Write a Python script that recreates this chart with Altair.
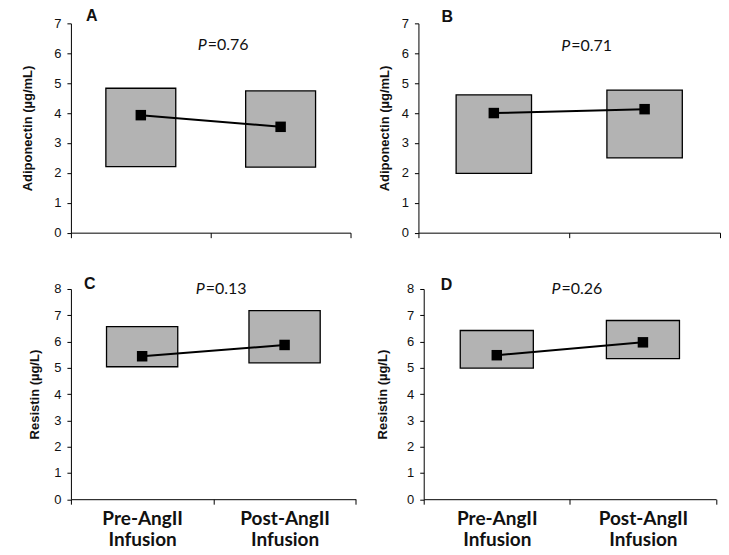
import altair as alt
import pandas as pd

groups = ["Pre-AngII Infusion", "Post-AngII Infusion"]

# Panel A: Adiponectin (left)
a_median = [3.93, 3.54]
a_low = [2.21, 2.19]
a_high = [4.83, 4.74]
# Panel B: Adiponectin (right)
b_median = [4.00, 4.13]
b_low = [1.98, 2.50]
b_high = [4.61, 4.77]
# Panel C: Resistin (left)
c_median = [5.44, 5.87]
c_low = [5.04, 5.19]
c_high = [6.57, 7.18]
# Panel D: Resistin (right)
d_median = [5.48, 5.97]
d_low = [4.99, 5.35]
d_high = [6.42, 6.80]

letters = ["A", "B", "C", "D"]
pvalues = ["=0.76", "=0.71", "=0.13", "=0.26"]
ytitles = ["Adiponectin (\u00b5g/mL)", "Adiponectin (\u00b5g/mL)",
           "Resistin (\u00b5g/L)", "Resistin (\u00b5g/L)"]
ymaxes = [7, 7, 8, 8]


def panel(median, low, high, ymax, ytitle, letter, pval, width, height,
          show_labels, title_pad, letter_x, letter_y, p_x, p_y, spacer=None):
    df = pd.DataFrame({"group": groups, "median": median, "low": low, "high": high})
    xaxis = alt.Axis(
        title=None, labels=show_labels, tickBand="extent", labelAngle=0,
        labelExpr="split(datum.label, ' ')", labelFont="Lato",
        labelFontWeight="bold", labelFontSize=19, labelColor="#111",
        labelLineHeight=21, labelPadding=5, tickSize=5,
        domainColor="#000", tickColor="#000", grid=False,
    )
    x = alt.X("group:N", sort=groups, axis=xaxis,
              scale=alt.Scale(paddingInner=0, paddingOuter=0))
    yscale = alt.Scale(domain=[0, ymax], nice=False)
    yaxis = alt.Axis(
        values=list(range(ymax + 1)), title=ytitle, titleFont="Liberation Sans",
        titleFontSize=13, titleFontWeight="bold", titleColor="#111",
        titlePadding=title_pad, labelFont="Liberation Sans", labelFontSize=13,
        labelColor="#111", labelPadding=6, tickSize=4, grid=False,
        labelOverlap=False, labelFlush=False,
        domainColor="#000", tickColor="#000",
    )
    base = alt.Chart(df)
    bars = base.mark_bar(
        fill="#b3b3b3", stroke="#000", strokeWidth=1.3,
        width=alt.RelativeBandSize(0.5),
    ).encode(x=x, y=alt.Y("low:Q", scale=yscale, axis=yaxis), y2="high:Q")
    line = base.mark_line(color="#000", strokeWidth=2).encode(
        x=x, y=alt.Y("median:Q", scale=yscale, axis=yaxis))
    pts = base.mark_square(size=110, color="#000", opacity=1).encode(
        x=x, y=alt.Y("median:Q", scale=yscale, axis=yaxis))
    lab = alt.Chart(pd.DataFrame({"t": [letter]})).mark_text(
        align="left", baseline="alphabetic", font="Liberation Sans",
        fontWeight="bold", fontSize=16, color="#111",
    ).encode(text="t:N", x=alt.value(letter_x), y=alt.value(letter_y))
    ptxt = alt.Chart(pd.DataFrame({"t": ["P"]})).mark_text(
        align="right", baseline="middle", font="Lato", fontStyle="italic",
        fontSize=16, color="#111",
    ).encode(text="t:N", x=alt.value(p_x), y=alt.value(p_y))
    vtxt = alt.Chart(pd.DataFrame({"t": [pval]})).mark_text(
        align="left", baseline="middle", font="Lato",
        fontSize=16, color="#111",
    ).encode(text="t:N", x=alt.value(p_x + 1), y=alt.value(p_y))
    layers = [bars, line, pts, lab, ptxt, vtxt]
    if spacer is not None:
        sp = alt.Chart(pd.DataFrame({"t": [0]})).mark_rule(
            opacity=0, strokeOpacity=0).encode(
            x=alt.value(spacer), x2=alt.value(spacer + 1),
            y=alt.value(0), y2=alt.value(1))
        layers.append(sp)
    return alt.layer(*layers).properties(width=width, height=height)


A = panel(a_median, a_low, a_high, ymaxes[0], ytitles[0], letters[0], pvalues[0],
          280, 209.6, False, 19, 15, -2, 136, 22)
B = panel(b_median, b_low, b_high, ymaxes[1], ytitles[1], letters[1], pvalues[1],
          302, 209.6, False, 10, 23, -1, 152, 23)
C = panel(c_median, c_low, c_high, ymaxes[2], ytitles[2], letters[2], pvalues[2],
          285.3, 210.5, True, 12, 13, 0, 134, 0.5, spacer=-51)
D = panel(d_median, d_low, d_high, ymaxes[3], ytitles[3], letters[3], pvalues[3],
          292.7, 210.5, True, 17, 17, 1, 137, 0.5)

top = alt.hconcat(A, B, spacing=68, bounds="flush")
bottom = alt.hconcat(C, D, spacing=67.3, bounds="flush")
chart = alt.vconcat(top, bottom, spacing=36, bounds="full").properties(
    padding={"left": 12, "top": 0, "right": 0, "bottom": 0}
).configure_view(stroke=None)

chart.save("out.html", embed_options={"renderer": "svg", "actions": False})
